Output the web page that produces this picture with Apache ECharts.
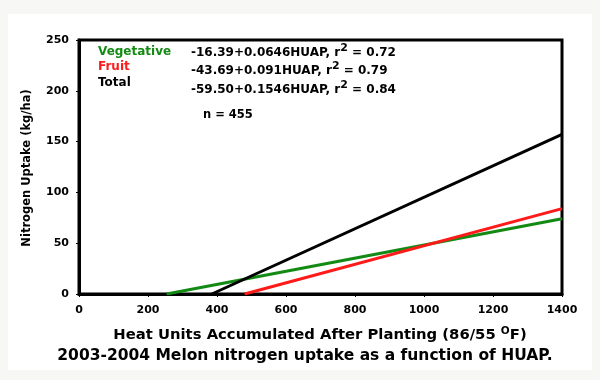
<!DOCTYPE html>
<html><head><meta charset="utf-8">
<script src="https://cdn.jsdelivr.net/npm/echarts@6/dist/echarts.min.js"></script>
<style>html,body{margin:0;padding:0;background:#f7f7f5}#c{width:600px;height:380px}</style>
</head><body><div id="c"></div>
<script>
const xTicks = [0,200,400,600,800,1000,1200,1400];
const yTicks = [0,50,100,150,200,250];
const vegetative = [[254,0],[1400,74]];
const fruit = [[480,0],[1400,84]];
const total = [[385,0],[1400,157]];
const seriesNames = ['Vegetative','Fruit','Total'];
const seriesColors = ['#138a13','#ff1a1a','#000000'];
const equations = ['-16.39+0.0646HUAP, r','-43.69+0.091HUAP, r','-59.50+0.1546HUAP, r'];
const r2 = ['0.72','0.79','0.84'];
const nLabel = 'n = 455';
const xName = 'Heat Units Accumulated After Planting (86/55 ';
const yName = 'Nitrogen Uptake (kg/ha)';
const caption = '2003-2004 Melon nitrogen uptake as a function of HUAP.';

const F = '"DejaVu Sans", sans-serif';
const chart = echarts.init(document.getElementById('c'));
const graphics = [
  {type:'rect', shape:{x:8,y:14,width:584,height:356}, style:{fill:'#ffffff'}, z:-10}
];
const legY = [52,67,83];
const eqY = [51,69,88];
seriesNames.forEach((n,i)=>{
  graphics.push({type:'text', x:98, y:legY[i], style:{text:n, fill:seriesColors[i], font:'bold 12px '+F, verticalAlign:'middle'}});
  graphics.push({type:'text', x:191, y:eqY[i], style:{
    text:'{e|'+equations[i]+'}{s|2}{e| = '+r2[i]+'}', verticalAlign:'middle',
    rich:{e:{font:'bold 12px '+F, fill:'#000', verticalAlign:'bottom', lineHeight:16},
          s:{font:'bold 11px '+F, fill:'#000', verticalAlign:'top', lineHeight:16, padding:[0,0,6,0]}}
  }});
});
graphics.push({type:'text', x:203, y:115, style:{text:nLabel, fill:'#000', font:'bold 11.5px '+F, verticalAlign:'middle'}});
graphics.push({type:'text', x:27, y:168, rotation:Math.PI/2, style:{text:yName, fill:'#000', font:'bold 11.5px '+F, align:'center', verticalAlign:'middle'}});
graphics.push({type:'text', x:320, y:335, style:{
  text:'{a|'+xName+'}{s|O}{a|F)}', align:'center', verticalAlign:'middle',
  rich:{a:{font:'bold 14.8px '+F, fill:'#000', lineHeight:18}, s:{font:'bold 10.5px '+F, fill:'#000', padding:[0,0,8,0], lineHeight:18}}
}});
graphics.push({type:'text', x:305, y:356, style:{text:caption, fill:'#000', font:'bold 15.5px '+F, align:'center', verticalAlign:'middle'}});

function mk(name, data, color){
  return {name, type:'line', data, symbol:'none', lineStyle:{color, width:3}, itemStyle:{color}, z:5};
}
chart.setOption({
  animation:false,
  backgroundColor:'transparent',
  grid:{left:79, right:38, top:40, bottom:86, show:true, borderColor:'#000', borderWidth:3},
  xAxis:{type:'value', min:0, max:1400, interval:200,
    axisLine:{show:true, onZero:false, lineStyle:{color:'#000', width:3}},
    axisTick:{show:true, length:3, lineStyle:{color:'#000', width:1}},
    splitLine:{show:false},
    axisLabel:{color:'#000', fontFamily:'DejaVu Sans', fontWeight:'bold', fontSize:11, margin:11,
      formatter:v=>xTicks.includes(v)?String(v):''}},
  yAxis:{type:'value', min:0, max:250, interval:50,
    axisLine:{show:true, onZero:false, lineStyle:{color:'#000', width:3}},
    axisTick:{show:true, length:3, lineStyle:{color:'#000', width:1}},
    splitLine:{show:false},
    axisLabel:{color:'#000', fontFamily:'DejaVu Sans', fontWeight:'bold', fontSize:11, margin:10,
      formatter:v=>yTicks.includes(v)?String(v):''}},
  series:[mk(seriesNames[0],vegetative,seriesColors[0]), mk(seriesNames[1],fruit,seriesColors[1]), mk(seriesNames[2],total,seriesColors[2])],
  graphic:graphics
});
</script></body></html>
